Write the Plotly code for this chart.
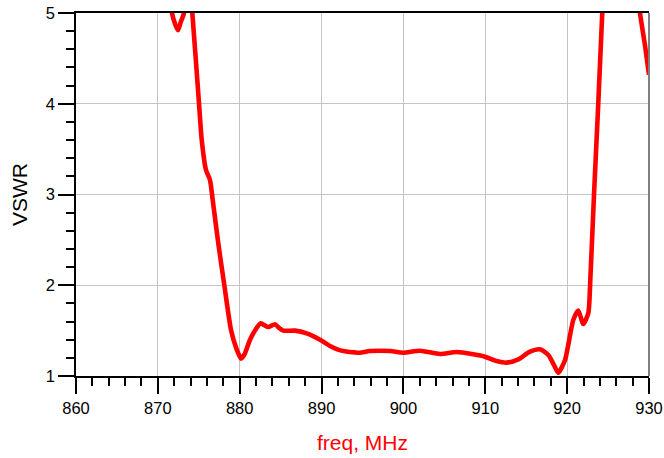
import plotly.graph_objects as go

# Segment 1: small dip near 872 MHz (clipped at top)
freq_a = [871.4, 871.73, 872.1, 872.46, 872.8, 873.2, 873.6]
vswr_a = [5.3, 5.0, 4.88, 4.81, 4.9, 5.0, 5.3]

# Segment 2: main passband curve
freq_b = [873.8, 874.21, 875.03, 875.36, 875.88, 876.37, 876.70, 877.4, 878.12, 878.93,
          879.6, 880.03, 880.16, 880.6, 881.26, 882.0, 882.56, 883.45, 884.31, 884.8,
          885.33, 886.75, 888.18, 889.81, 891.03, 892.0, 893.0, 894.08, 894.69, 895.91,
          898.36, 899.98, 902.02, 904.47, 906.51, 908.53, 909.96, 911.39, 912.61, 914.03,
          915.46, 916.68, 917.70, 918.4, 918.92, 919.74, 920.75, 921.36, 921.97, 922.58,
          922.85, 923.28, 923.80, 924.29, 924.5]
vswr_b = [5.4, 5.0, 4.0, 3.60, 3.27, 3.16, 2.94, 2.45, 2.00, 1.51,
          1.30, 1.21, 1.19, 1.24, 1.40, 1.52, 1.58, 1.54, 1.57, 1.53,
          1.50, 1.50, 1.47, 1.40, 1.33, 1.29, 1.27, 1.26, 1.257, 1.275,
          1.275, 1.257, 1.279, 1.242, 1.264, 1.239, 1.213, 1.165, 1.147, 1.184,
          1.268, 1.294, 1.231, 1.12, 1.036, 1.176, 1.617, 1.720, 1.573, 1.691,
          2.1, 2.994, 3.997, 5.0, 5.4]

# Segment 3: right edge
freq_c = [928.6, 928.9, 929.5, 930.0]
vswr_c = [5.3, 5.0, 4.65, 4.32]

red = "#ff0000"
fig = go.Figure()
for fx, vy in [(freq_a, vswr_a), (freq_b, vswr_b), (freq_c, vswr_c)]:
    fig.add_trace(go.Scatter(x=fx, y=vy, mode="lines",
                             line=dict(color=red, width=4.6, shape="spline", smoothing=0.6),
                             showlegend=False, hoverinfo="skip"))

font_family = "Liberation Sans, Arial, sans-serif"
fig.update_layout(
    width=664, height=458,
    margin=dict(l=76, r=15, t=13, b=82),
    paper_bgcolor="white", plot_bgcolor="white",
    font=dict(family=font_family, size=16, color="black"),
    xaxis=dict(
        range=[860, 930], dtick=10, tick0=860, automargin=False,
        showline=True, linecolor="black", linewidth=1.5, mirror=True,
        ticks="outside", ticklen=16, tickcolor="black", tickwidth=1.5,
        showgrid=True, gridcolor="#c4c4c4", gridwidth=1.2,
        zeroline=False,
        minor=dict(dtick=2, ticks="outside", ticklen=8, tickcolor="black", tickwidth=1.5, showgrid=False),
        tickfont=dict(size=16.5, color="black"),
        title=dict(text="freq, MHz", font=dict(size=21, color=red), standoff=20),
    ),
    yaxis=dict(
        range=[1, 5], dtick=1, tick0=1, automargin=False,
        showline=True, linecolor="black", linewidth=1.5,
        ticks="outside", ticklen=16, tickcolor="black", tickwidth=1.5,
        showgrid=True, gridcolor="#c4c4c4", gridwidth=1.2,
        zeroline=False,
        minor=dict(dtick=0.2, ticks="outside", ticklen=8, tickcolor="black", tickwidth=1.5, showgrid=False),
        tickfont=dict(size=16.5, color="black"),
        title=dict(text="VSWR", font=dict(size=21, color="black"), standoff=12),
    ),
    shapes=[dict(type="line", xref="paper", yref="paper", x0=1, x1=1, y0=0, y1=1,
                 line=dict(color="#7f7f7f", width=2))],
)
fig.write_html("out.html")
